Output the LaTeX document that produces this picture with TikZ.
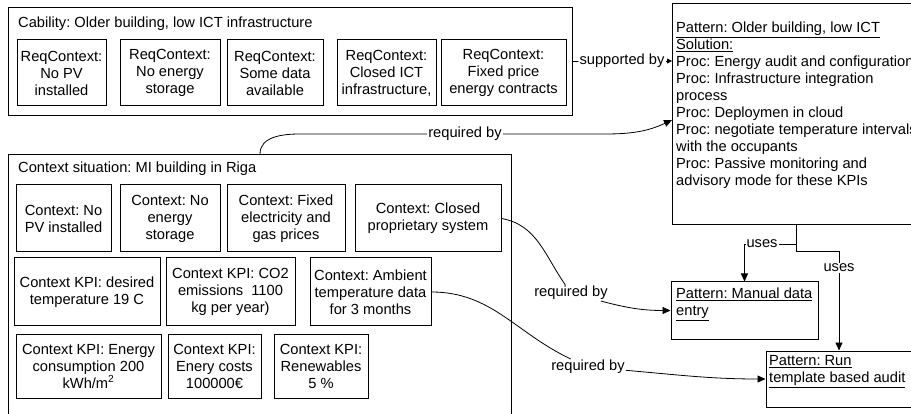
\documentclass[tikz,border=0pt]{standalone}
\usepackage{fontspec}
\setmainfont{Liberation Sans}
\usetikzlibrary{arrows.meta, positioning}
\frenchspacing

\tikzset{
  ctxbox/.style={draw, line width=1pt, align=center, inner sep=1pt},
  bigbox/.style={draw, line width=1pt, anchor=north west, inner sep=0pt},
  boxtitle/.style={anchor=west, inner sep=0pt},
  patterntext/.style={anchor=north west, align=left, inner sep=0pt},
  edgelabel/.style={inner sep=1pt},
  conn/.style={line width=0.8pt}
}

\begin{document}
\begin{tikzpicture}[x=1pt, y=-1pt, >={Triangle[length=8pt, width=7pt]},
    font=\fontsize{14.67}{17}\selectfont]

    \useasboundingbox (0,0) rectangle (911,414);
    \clip (0,0) rectangle (911,414);

    % capability with required context
    \node[bigbox, minimum width=564, minimum height=108] (cab) at (8,7) {};
    \node[boxtitle] (cabtitle) at (18,24) {Cability: Older building, low ICT infrastructure};

    \node[ctxbox, minimum width=89, minimum height=66] (rq1) at (61.5,73) {ReqContext:\\No PV\\installed};
    \node[ctxbox, minimum width=100, minimum height=66] (rq2) at (170,73) {ReqContext:\\No energy\\storage};
    \node[ctxbox, minimum width=96, minimum height=66] (rq3) at (275,73) {ReqContext:\\Some data\\available};
    \node[ctxbox, minimum width=99, minimum height=66] (rq4) at (386.5,73) {ReqContext:\\Closed ICT\\infrastructure,};
    \node[ctxbox, minimum width=125, minimum height=66] (rq5) at (503.5,73) {ReqContext:\\Fixed price\\energy contracts};

    % pattern
    \node[bigbox, minimum width=248, minimum height=221] (pat) at (672,3) {};
    \node[patterntext] (pattxt) at (676,21.5) {\underline{Pattern: Older building, low ICT}\\
        \underline{Solution:}\\
        Proc: Energy audit and configuration\\
        Proc: Infrastructure integration\\
        process\\
        Proc: Deploymen in cloud\\
        Proc: negotiate temperature intervals\\
        with the occupants\\
        Proc: Passive monitoring and\\
        advisory mode for these KPIs};

    % context situation
    \node[bigbox, minimum width=503, minimum height=276] (ctx) at (8,154) {};
    \node[boxtitle] (ctxtitle) at (18,169) {Context situation: MI building in Riga};

    \node[ctxbox, minimum width=95, minimum height=67] (c1) at (63.5,218.5) {Context: No\\PV installed};
    \node[ctxbox, minimum width=100, minimum height=67] (c2) at (170,218.5) {Context: No\\energy\\storage};
    \node[ctxbox, minimum width=118, minimum height=67] (c3) at (286,218.5) {Context: Fixed\\electricity and\\gas prices};
    \node[ctxbox, minimum width=146, minimum height=67] (c4) at (428,218.5) {Context: Closed\\proprietary system};

    \node[ctxbox, minimum width=146, minimum height=68] (k1) at (87,292) {Context KPI: desired\\temperature 19 C};
    \node[ctxbox, minimum width=129, minimum height=68] (k2) at (230.5,292) {Context KPI: CO2\\emissions~ 1100\\kg per year)};
    \node[ctxbox, minimum width=121, minimum height=68] (c5) at (370.5,292) {Context: Ambient\\temperature data\\for 3 months};

    \node[ctxbox, minimum width=145, minimum height=64] (k3) at (88.5,366) {Context KPI: Energy\\consumption 200\\kWh/m\textsuperscript{2}};
    \node[ctxbox, minimum width=93, minimum height=64] (k4) at (214.5,366) {Context KPI:\\Enery costs\\100000€};
    \node[ctxbox, minimum width=94, minimum height=64] (k5) at (321,366) {Context KPI:\\Renewables\\5 \%};

    % further patterns
    \node[ctxbox, minimum width=147, minimum height=57] (man) at (744.5,310.5) {};
    \node[patterntext] (mantxt) at (676,287.5) {\underline{Pattern: Manual data}\\\underline{entry}};
    \node[ctxbox, minimum width=146, minimum height=56] (run) at (839,379) {};
    \node[patterntext] (runtxt) at (769,355.5) {\underline{Pattern: Run}\\\underline{template based audit}};

    % edge labels
    \node[edgelabel] (sup) at (622,61) {supported by};
    \node[edgelabel] (req1) at (465,134) {required by};
    \node[edgelabel] (req2) at (571,293) {required by};
    \node[edgelabel] (req3) at (588,367) {required by};
    \node[edgelabel] (use1) at (762,244) {uses};
    \node[edgelabel] (use2) at (839,268) {uses};

    % connectors
    \draw[conn] (cab.east) -- (sup);
    \draw[conn, -{Triangle[length=5pt, width=5pt]}] (sup) -- (sup -| pat.west);

    \draw[conn] (ctx.north) to[out=90, in=180] ++(40,-20) -- (req1);
    \draw[conn, ->] (req1) -- ++(140,0) to[out=0, in=205] ([yshift=-6]pat.west);

    \draw[conn] (c4.east) to[out=-10, in=125] (req2);
    \draw[conn, ->] (req2) to[out=-15, in=180] (man.west);

    \draw[conn] (c5.east) to[out=0, in=155] (req3);
    \draw[conn, ->] (req3) to[out=-5, in=180] (run.west);

    \draw[conn] (pat.south) |- (use1);
    \draw[conn, ->] (use1) -| (man.north);
    \draw[conn] (pat.south) -- ++(0,26) -| (use2);
    \draw[conn, ->] (use2) -- (run.north);

\end{tikzpicture}
\end{document}
